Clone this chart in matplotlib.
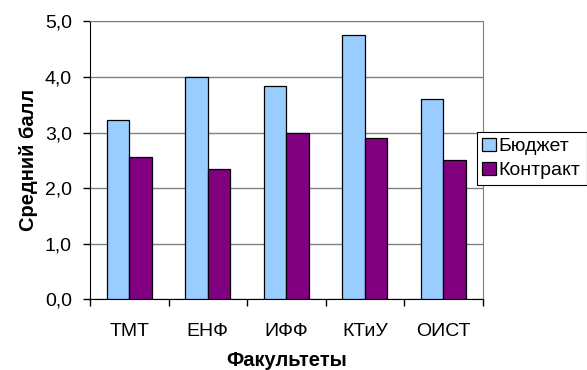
import numpy as np
import matplotlib
matplotlib.use("Agg")
import matplotlib.pyplot as plt
from matplotlib.patches import Patch

plt.rcParams["font.family"] = ["Liberation Sans", "DejaVu Sans"]

# ----- data -----
faculties = ["ТМТ", "ЕНФ", "ИФФ", "КТиУ", "ОИСТ"]
budget = [3.22, 3.99, 3.84, 4.75, 3.60]
contract = [2.56, 2.34, 2.99, 2.91, 2.51]
series_names = ["Бюджет", "Контракт"]
yticks = [0, 1, 2, 3, 4, 5]

c_budget = "#99CCFF"
c_contract = "#800080"
fs = 14        # tick labels / legend
fs_title = 14.5  # axis titles

fig = plt.figure(figsize=(5.87, 3.70), dpi=100)
ax = fig.add_axes([0.1533, 0.1911, 0.8223 - 0.1533, 0.9424 - 0.1911])

x = np.arange(len(faculties))
w = 0.286
ax.bar(x - w / 2, budget, width=w, color=c_budget, edgecolor="black", linewidth=0.9, zorder=3)
ax.bar(x + w / 2, contract, width=w, color=c_contract, edgecolor="black", linewidth=0.9, zorder=3)

ax.set_xlim(-0.5, len(faculties) - 0.5)
ax.set_ylim(0, 5)
ax.set_yticks(yticks)
ax.set_yticklabels([f"{v:.1f}".replace(".", ",") for v in yticks], fontsize=fs)
ax.yaxis.grid(True, color="#808080", linewidth=1, zorder=0)
ax.set_axisbelow(True)

# category ticks at boundaries, labels centered
ax.set_xticks(np.arange(len(faculties) + 1) - 0.5)
ax.set_xticklabels([])
ax.set_xticks(x, minor=True)
ax.set_xticklabels(faculties, minor=True, fontsize=fs)
ax.tick_params(axis="x", which="minor", length=0, pad=17)
ax.tick_params(axis="x", which="major", length=5, width=1, color="black")
ax.tick_params(axis="y", length=5, width=1, pad=8)

for side in ["top", "right"]:
    ax.spines[side].set_color("#808080")
for side in ["left", "bottom"]:
    ax.spines[side].set_color("black")

ax.set_ylabel("Средний балл", fontsize=fs_title, fontweight="bold", labelpad=5)
ax.set_xlabel("Факультеты", fontsize=fs_title, fontweight="bold", labelpad=8)

handles = [Patch(facecolor=c_budget, edgecolor="black", linewidth=0.9),
           Patch(facecolor=c_contract, edgecolor="black", linewidth=0.9)]
leg = fig.legend(handles, series_names, loc="upper left",
                 bbox_to_anchor=(0.812, 0.644), fontsize=fs,
                 handlelength=0.67, handleheight=0.67, handletextpad=0.17,
                 borderpad=0.3, labelspacing=0.35, borderaxespad=0,
                 fancybox=False, framealpha=1, edgecolor="black")
leg.get_frame().set_linewidth(0.8)

fig.savefig("out.png", dpi=100)
